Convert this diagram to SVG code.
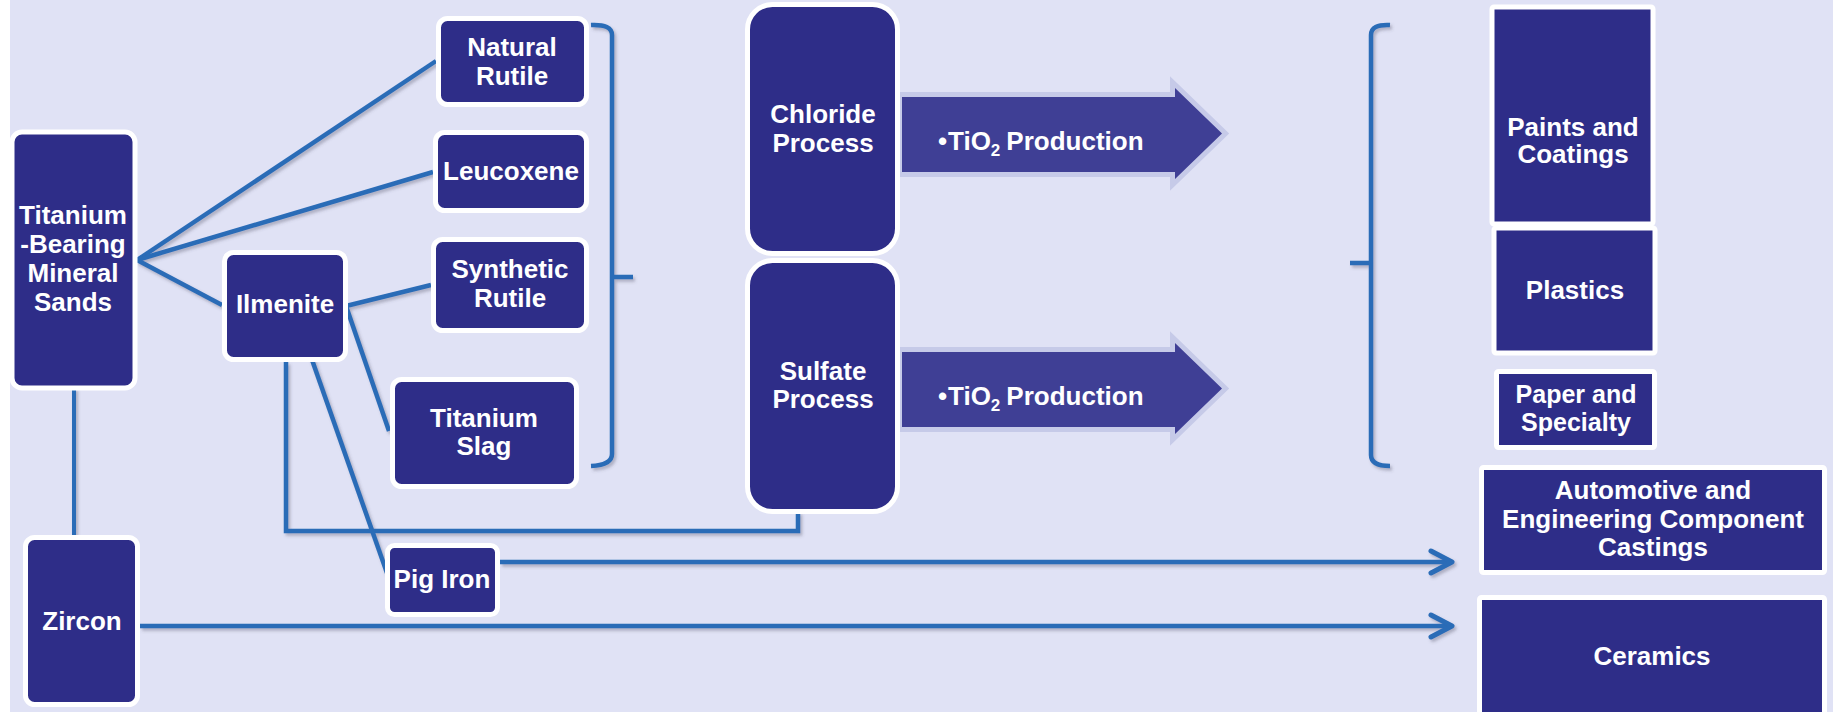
<svg xmlns="http://www.w3.org/2000/svg" width="1833" height="712" viewBox="0 0 1833 712">
<style>
.box{fill:#2E2D88;stroke:#FFFFFF;stroke-width:5}
.t{font-family:"Liberation Sans",Arial,sans-serif;font-weight:bold;font-size:26px;fill:#FFFFFF;text-anchor:middle}
.ts{font-family:"Liberation Sans",Arial,sans-serif;font-weight:bold;font-size:26px;fill:#FFFFFF}
.c{fill:none;stroke:#2B6CB7;stroke-width:4.5;stroke-linecap:butt;stroke-linejoin:miter}
.afill{fill:#3F3F95}
.aglow{fill:#C6CAE8;stroke:#C6CAE8;stroke-width:10;stroke-linejoin:miter}
</style>
<defs>
<filter id="sh" x="-5%" y="-5%" width="110%" height="110%">
<feDropShadow dx="2" dy="2.5" stdDeviation="1.5" flood-color="#4A4A60" flood-opacity="0.35"/>
</filter>
<marker id="chev" markerUnits="userSpaceOnUse" markerWidth="30" markerHeight="30" viewBox="-26 -15 30 30" refX="0" refY="0" orient="auto">
<path d="M-21,-11 L0,0 L-21,11" fill="none" stroke="#2B6CB7" stroke-width="5" stroke-linecap="round" stroke-linejoin="round"/>
</marker>
</defs>
<rect x="0" y="0" width="1833" height="712" fill="#FFFFFF"/>
<rect x="10" y="0" width="1823" height="712" fill="#E0E2F5"/>

<g id="connectors" filter="url(#sh)">
<line class="c" x1="137" y1="260" x2="436" y2="61"/>
<line class="c" x1="137" y1="260" x2="433" y2="172"/>
<line class="c" x1="137" y1="260" x2="222" y2="305"/>
<line class="c" x1="346" y1="306" x2="431" y2="285"/>
<line class="c" x1="346" y1="306" x2="389" y2="431"/>
<line class="c" x1="311" y1="357" x2="387" y2="573"/>
<polyline class="c" points="286,362 286,531 798,531 798,512"/>
<line class="c" x1="74" y1="388" x2="74" y2="544" style="stroke-width:4"/>
<path class="c" d="M591,25 Q612,24 612,35 V454 Q612,465 591,466 M612,277 H633"/>
<path class="c" d="M1390,25 Q1371,24 1371,35 V455 Q1371,466 1390,466 M1371,263 H1350"/>
<line class="c" x1="500" y1="562" x2="1452" y2="562" marker-end="url(#chev)"/>
<line class="c" x1="140" y1="626" x2="1452" y2="626" marker-end="url(#chev)"/>
</g>

<g id="arrow-chloride">
<polygon class="aglow" points="902,97 1175,97 1175,88 1222,133.5 1175,179 1175,172 902,172"/>
<polygon class="afill" points="902,97 1175,97 1175,88 1222,133.5 1175,179 1175,172 902,172"/>
<text class="ts" x="938" y="150">•<tspan x="948">TiO</tspan><tspan font-size="17" dy="6">2</tspan><tspan dx="6" dy="-6">Production</tspan></text>
</g>
<g id="arrow-sulfate">
<polygon class="aglow" points="902,352 1175,352 1175,343 1222,388.5 1175,434 1175,427 902,427"/>
<polygon class="afill" points="902,352 1175,352 1175,343 1222,388.5 1175,434 1175,427 902,427"/>
<text class="ts" x="938" y="405">•<tspan x="948">TiO</tspan><tspan font-size="17" dy="6">2</tspan><tspan dx="6" dy="-6">Production</tspan></text>
</g>

<g id="titanium-bearing-mineral-sands">
<rect class="box" x="12" y="132" width="123" height="256" rx="10"/>
<text class="t" x="73" y="224">Titanium</text>
<text class="t" x="73" y="253">-Bearing</text>
<text class="t" x="73" y="282">Mineral</text>
<text class="t" x="73" y="311">Sands</text>
</g>
<g id="natural-rutile">
<rect class="box" x="438.5" y="18.5" width="148" height="86" rx="9"/>
<text class="t" x="512" y="56">Natural</text>
<text class="t" x="512" y="85">Rutile</text>
</g>
<g id="leucoxene">
<rect class="box" x="435.5" y="132.5" width="151" height="78" rx="9"/>
<text class="t" x="511" y="180">Leucoxene</text>
</g>
<g id="synthetic-rutile">
<rect class="box" x="433.5" y="239.5" width="153" height="91" rx="9"/>
<text class="t" x="510" y="278">Synthetic</text>
<text class="t" x="510" y="307">Rutile</text>
</g>
<g id="titanium-slag">
<rect class="box" x="392.5" y="379.5" width="184" height="107" rx="9"/>
<text class="t" x="484" y="427">Titanium</text>
<text class="t" x="484" y="455">Slag</text>
</g>
<g id="ilmenite">
<rect class="box" x="224.5" y="252.5" width="121" height="107" rx="9"/>
<text class="t" x="285" y="313">Ilmenite</text>
</g>
<g id="pig-iron">
<rect class="box" x="387.5" y="545.5" width="110" height="69" rx="7"/>
<text class="t" x="442" y="588">Pig Iron</text>
</g>
<g id="zircon">
<rect class="box" x="25.5" y="537.5" width="112" height="167" rx="9"/>
<text class="t" x="82" y="630">Zircon</text>
</g>
<g id="chloride-process">
<rect class="box" x="747.5" y="4.5" width="150" height="249" rx="25"/>
<text class="t" x="823" y="123">Chloride</text>
<text class="t" x="823" y="152">Process</text>
</g>
<g id="sulfate-process">
<rect class="box" x="747.5" y="260.5" width="150" height="251" rx="25"/>
<text class="t" x="823" y="380">Sulfate</text>
<text class="t" x="823" y="408">Process</text>
</g>
<g id="paints-and-coatings">
<rect class="box" x="1492" y="7" width="161" height="217" rx="2"/>
<text class="t" x="1573" y="136">Paints and</text>
<text class="t" x="1573" y="163">Coatings</text>
</g>
<g id="plastics">
<rect class="box" x="1494" y="228" width="161" height="125" rx="2"/>
<text class="t" x="1575" y="299">Plastics</text>
</g>
<g id="paper-and-specialty">
<rect class="box" x="1496.5" y="371.5" width="158" height="76" rx="2"/>
<text class="t" x="1576" y="403" style="font-size:25px">Paper and</text>
<text class="t" x="1576" y="431" style="font-size:25px">Specialty</text>
</g>
<g id="automotive-castings">
<rect class="box" x="1481.5" y="467.5" width="343" height="105" rx="2"/>
<text class="t" x="1653" y="499">Automotive and</text>
<text class="t" x="1653" y="528">Engineering Component</text>
<text class="t" x="1653" y="556">Castings</text>
</g>
<g id="ceramics">
<rect class="box" x="1479.5" y="597.5" width="345" height="130" rx="2"/>
<text class="t" x="1652" y="665">Ceramics</text>
</g>
</svg>
